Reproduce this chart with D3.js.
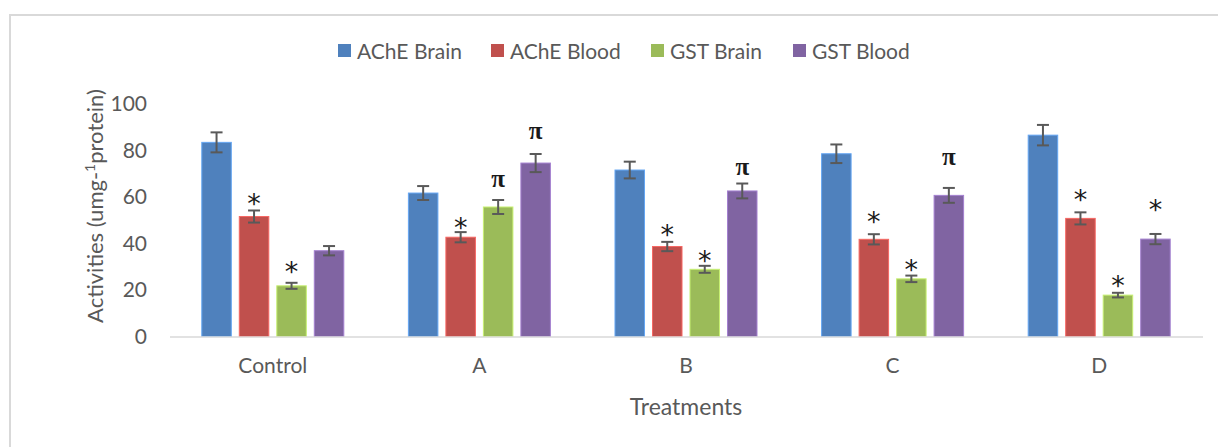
<!DOCTYPE html>
<html>
<head>
<meta charset="utf-8">
<script src="https://cdn.jsdelivr.net/npm/d3@7"></script>
<style>
  html, body { margin: 0; padding: 0; background: #fff; }
  svg { display: block; }
  text { font-family: Lato, "Open Sans", sans-serif; fill: #595959; }
</style>
</head>
<body>
<svg id="chart" width="1218" height="447"></svg>
<script>
// Treatment groups along the x axis
const categories = ["Control", "A", "B", "C", "D"];
const seriesNames = ["AChE Brain", "AChE Blood", "GST Brain", "GST Blood"];
const seriesColors = ["#4f81bd", "#c0504d", "#9bbb59", "#8064a2"];

// Mean activities per series (umg-1 protein)
const acheBrain = [83.5, 61.7, 71.6, 78.6, 86.6];
const acheBlood = [51.6, 42.7, 38.7, 41.8, 50.8];
const gstBrain  = [21.8, 55.7, 28.9, 24.8, 17.8];
const gstBlood  = [36.9, 74.6, 62.6, 60.7, 41.9];

// Error (±) per series
const acheBrainErr = [4.3, 3.0, 3.6, 4.0, 4.4];
const acheBloodErr = [2.6, 2.2, 2.0, 2.2, 2.6];
const gstBrainErr  = [1.3, 3.0, 1.5, 1.4, 1.0];
const gstBloodErr  = [2.0, 3.9, 3.2, 3.2, 2.2];

const yTicks = [0, 20, 40, 60, 80, 100];

// Significance marks: series index, category, symbol, level (data units)
const markSeries   = [1, 2, 1, 2, 3, 1, 2, 3, 1, 2, 3, 1, 2, 3];
const markCategory = ["Control", "Control", "A", "A", "A", "B", "B", "B", "C", "C", "C", "D", "D", "D"];
const markSymbol   = ["*", "*", "*", "π", "π", "*", "*", "π", "*", "*", "π", "*", "*", "*"];
const markLevel    = [58.8, 29.5, 48.7, 67.5, 88.0, 45.8, 34.2, 72.3, 51.3, 30.4, 76.8, 60.6, 23.8, 56.2];

const values = [acheBrain, acheBlood, gstBrain, gstBlood];
const errors = [acheBrainErr, acheBloodErr, gstBrainErr, gstBloodErr];

const svg = d3.select("#chart");

// chart frame
svg.append("path")
  .attr("d", "M10,447 V15 H1218")
  .attr("fill", "none")
  .attr("stroke", "#d9d9d9")
  .attr("stroke-width", 2);

const plot = { left: 169.5, right: 1202.5, top: 104, bottom: 336.5 };

const x0 = d3.scaleBand()
  .domain(categories)
  .range([plot.left, plot.right])
  .paddingInner(0)
  .paddingOuter(0);

const groupWidth = 150;
const x1 = d3.scaleBand()
  .domain(d3.range(seriesNames.length))
  .range([(x0.bandwidth() - groupWidth) / 2, (x0.bandwidth() + groupWidth) / 2])
  .paddingInner(0.213)
  .paddingOuter(0.1065);

const y = d3.scaleLinear().domain([0, 100]).range([plot.bottom, plot.top]);

// bars
const rows = [];
values.forEach((vals, s) => {
  vals.forEach((v, i) => rows.push({ s, cat: categories[i], v, e: errors[s][i] }));
});

svg.append("g").selectAll("rect")
  .data(rows)
  .join("rect")
  .attr("x", d => x0(d.cat) + x1(d.s))
  .attr("y", d => y(d.v))
  .attr("width", x1.bandwidth())
  .attr("height", d => y(0) - y(d.v))
  .attr("fill", d => seriesColors[d.s])
  .attr("stroke", d => d3.color(seriesColors[d.s]).brighter(0.7))
  .attr("stroke-width", 1);

// x axis line
const xAxis = svg.append("g")
  .attr("transform", `translate(0,${plot.bottom})`)
  .call(d3.axisBottom(x0).tickSize(0).tickPadding(22));
xAxis.select(".domain").attr("stroke", "#d9d9d9").attr("stroke-width", 1.5);
xAxis.selectAll("text")
  .style("font-family", "Lato, 'Open Sans', sans-serif")
  .attr("font-size", 21)
  .attr("fill", "#595959");

// y axis labels (no line)
const yAxis = svg.append("g")
  .attr("transform", `translate(147,0)`)
  .call(d3.axisLeft(y).tickValues(yTicks).tickSize(0).tickPadding(0));
yAxis.select(".domain").remove();
yAxis.selectAll("text")
  .style("font-family", "Lato, 'Open Sans', sans-serif")
  .attr("font-size", 21)
  .attr("fill", "#595959");

// error bars
const eb = svg.append("g").attr("stroke", "#595959").attr("stroke-width", 2).attr("fill", "none");
rows.forEach(d => {
  const cx = x0(d.cat) + x1(d.s) + x1.bandwidth() / 2;
  const yt = y(d.v + d.e), yb = y(d.v - d.e);
  eb.append("line").attr("x1", cx).attr("x2", cx).attr("y1", yt).attr("y2", yb);
  eb.append("line").attr("x1", cx - 6).attr("x2", cx + 6).attr("y1", yt).attr("y2", yt);
  eb.append("line").attr("x1", cx - 6).attr("x2", cx + 6).attr("y1", yb).attr("y2", yb);
});

// significance marks
const marks = markSymbol.map((sym, i) => ({ sym, s: markSeries[i], cat: markCategory[i], lv: markLevel[i] }));
svg.append("g").selectAll("text")
  .data(marks)
  .join("text")
  .attr("x", d => x0(d.cat) + x1(d.s) + x1.bandwidth() / 2)
  .attr("y", d => y(d.lv) + (d.sym === "*" ? 13.5 : 7))
  .attr("text-anchor", "middle")
  .style("font-family", d => d.sym === "*" ? "'DejaVu Sans', sans-serif" : "'Liberation Serif', 'DejaVu Serif', serif")
  .style("fill", "#1a1a1a")
  .attr("font-size", d => d.sym === "*" ? 27 : 25)
  .attr("font-weight", d => d.sym === "*" ? "normal" : "bold")
  .text(d => d.sym);

// axis titles
svg.append("text")
  .attr("x", (plot.left + plot.right) / 2)
  .attr("y", 415)
  .attr("text-anchor", "middle")
  .attr("font-size", 23)
  .text("Treatments");

const yt = svg.append("text")
  .attr("transform", "translate(103,206) rotate(-90)")
  .attr("text-anchor", "middle")
  .attr("font-size", 22);
yt.append("tspan").text("Activities (umg-");
yt.append("tspan").attr("font-size", 14).attr("dy", -8).text("1");
yt.append("tspan").attr("dy", 8).text("protein)");

// legend
const legendX = [338, 491, 651, 793];
const lg = svg.append("g");
seriesNames.forEach((name, i) => {
  lg.append("rect").attr("x", legendX[i]).attr("y", 44).attr("width", 13).attr("height", 13).attr("fill", seriesColors[i]);
  lg.append("text").attr("x", legendX[i] + 19).attr("y", 58.5).attr("font-size", 21).text(name);
});
</script>
</body>
</html>
